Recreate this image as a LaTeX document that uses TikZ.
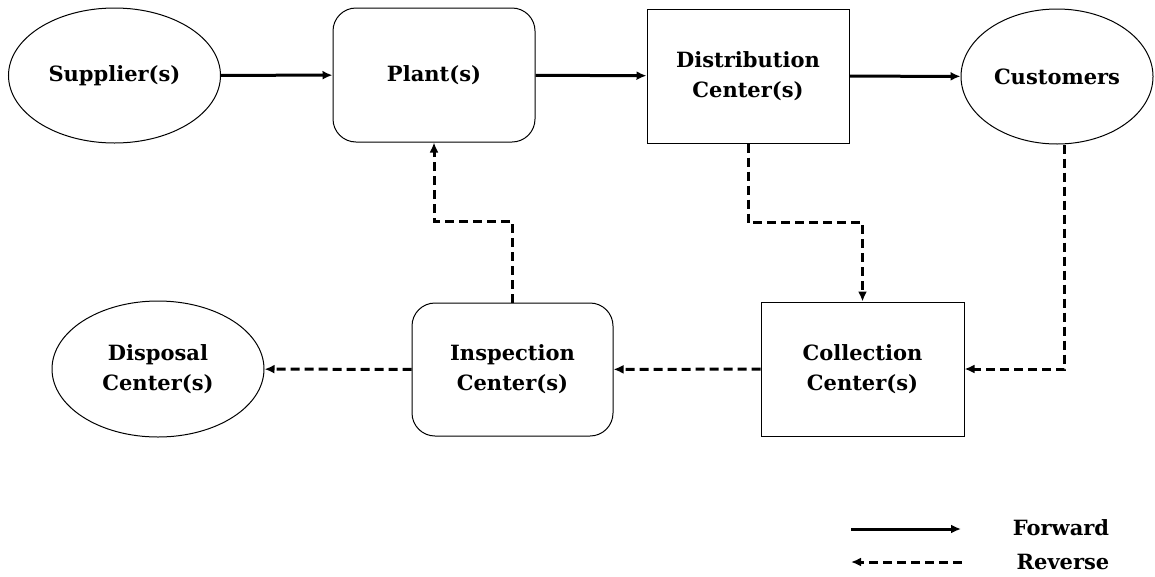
\documentclass[tikz,border=0pt]{standalone}
\usepackage{fontspec}
\setmainfont{DejaVu Serif}
\usetikzlibrary{arrows.meta,positioning,shapes}
\tikzstyle{block}=[draw, rectangle, line width=1pt, minimum width=202pt, minimum height=134pt, align=center, font=\bfseries\fontsize{21}{30}\selectfont]
\tikzstyle{rblock}=[block, rounded corners=23pt]
\tikzstyle{ellip}=[block, ellipse, inner sep=0pt, minimum width=212pt, minimum height=135pt]
\tikzstyle{fwd}=[->, line width=3pt]
\tikzstyle{rev}=[->, line width=3pt, dash pattern=on 9pt off 5pt]
\tikzstyle{legend}=[font=\bfseries\fontsize{21}{30}\selectfont]
\begin{document}
\begin{tikzpicture}[x=1pt, y=-1pt, >={Latex[length=10pt,width=9pt]}]
                    \useasboundingbox (0,0) rectangle (1155,576);
                    % forward chain
                    \node [ellip] (supplier) at (114.5,75.5) {Supplier(s)};
                    \node [rblock] (plant) at (434,75) {Plant(s)};
                    \node [block] (distribution) at (748,76) {Distribution\\Center(s)};
                    \node [ellip, minimum width=192pt] (customers) at (1057,76.5) {Customers};
                    % reverse chain
                    \node [block, minimum width=203pt] (collection) at (862.5,369) {Collection\\Center(s)};
                    \node [rblock, minimum width=201pt, minimum height=133pt] (inspection) at (512.5,369.5) {Inspection\\Center(s)};
                    \node [ellip, minimum height=136pt] (disposal) at (158,369) {Disposal\\Center(s)};
                    % legend
                    \coordinate (fwd_a) at (851,529);
                    \coordinate (fwd_b) at (961,529);
                    \coordinate (rev_a) at (962,562);
                    \coordinate (rev_b) at (851,562);
                    \node [legend] (forward) at (1061,528) {Forward};
                    \node [legend] (reverse) at (1063,562) {Reverse};

                    \draw[fwd] (supplier) -- (plant);
                    \draw[fwd] (plant) -- (distribution);
                    \draw[fwd] (distribution) -- (customers);
                    \draw[rev] (distribution.south) -- ++(0,79) -| (collection.north);
                    \draw[rev] ([xshift=7pt]customers.south) |- (collection.east);
                    \draw[rev] (collection) -- (inspection);
                    \draw[rev] (inspection) -- (disposal);
                    \draw[rev] (inspection.north) -- ++(0,-81) -| (plant.south);
                    \draw[fwd] (fwd_a) -- (fwd_b);
                    \draw[rev] (rev_a) -- (rev_b);
                \end{tikzpicture}
\end{document}
